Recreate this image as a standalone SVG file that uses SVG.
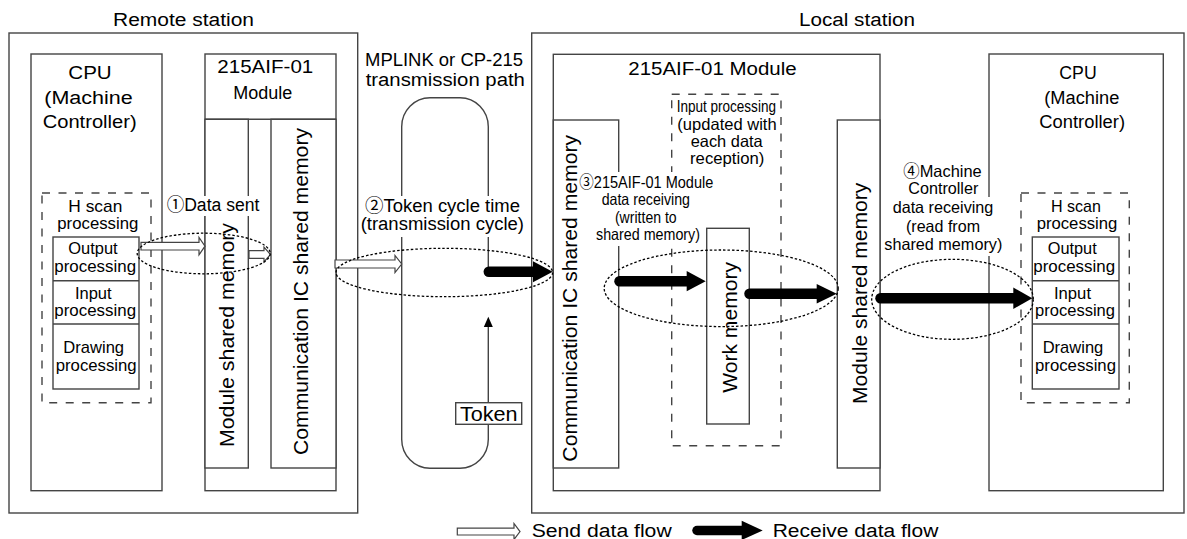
<svg xmlns="http://www.w3.org/2000/svg" width="1187" height="539" viewBox="0 0 1187 539">
<style>
text{font-family:"Liberation Sans",Arial,"Noto Sans CJK JP",sans-serif;fill:#000}
.t18{font-size:18px}
.t17{font-size:17px}
.t16{font-size:16.5px}
.t21{font-size:21px}
.c{text-anchor:middle}
.box{fill:#fff;stroke:#444;stroke-width:1.4}
.ln{fill:none;stroke:#444;stroke-width:1.4}
.dash{fill:none;stroke:#444;stroke-width:1.4;stroke-dasharray:8 8.5}
.dot{fill:none;stroke:#000;stroke-width:1.3;stroke-dasharray:2.5 2}
.bg{fill:#fff}
.snd{fill:#fff;stroke:#444;stroke-width:1.2}
.rl{stroke:#000;stroke-width:10.5;stroke-linecap:round}
.rh{fill:#000}
</style>
<rect width="1187" height="539" fill="#fff"/>

<g id="remote-station">
  <rect class="box" x="9" y="33" width="348.7" height="480"/>
  <text class="t18 c" x="183.5" y="26" textLength="141" lengthAdjust="spacingAndGlyphs">Remote station</text>
</g>
<g id="local-station">
  <rect class="box" x="531.7" y="33" width="652.3" height="480"/>
  <text class="t18 c" x="857" y="26" textLength="116" lengthAdjust="spacingAndGlyphs">Local station</text>
</g>

<g id="cpu-remote">
  <rect class="box" x="31" y="54" width="131" height="436.7"/>
  <text class="t18 c" x="90" y="79" textLength="43.4" lengthAdjust="spacingAndGlyphs">CPU</text>
  <text class="t18 c" x="88.5" y="103.5" textLength="88.4" lengthAdjust="spacingAndGlyphs">(Machine</text>
  <text class="t18 c" x="89.7" y="128" textLength="94" lengthAdjust="spacingAndGlyphs">Controller)</text>
</g>
<g id="hscan-remote">
  <rect class="dash" x="42" y="193" width="109" height="209.7"/>
  <text class="t17 c" x="95.3" y="212.3" textLength="54" lengthAdjust="spacingAndGlyphs">H scan</text>
  <text class="t17 c" x="97.8" y="229.3" textLength="81" lengthAdjust="spacingAndGlyphs">processing</text>
  <rect class="box" x="53" y="237" width="86" height="152"/>
  <line class="ln" x1="53" y1="280.7" x2="139" y2="280.7"/>
  <line class="ln" x1="53" y1="324" x2="139" y2="324"/>
  <text class="t17 c" x="93" y="254" textLength="49.4" lengthAdjust="spacingAndGlyphs">Output</text>
  <text class="t17 c" x="95.2" y="272.3" textLength="81.7" lengthAdjust="spacingAndGlyphs">processing</text>
  <text class="t17 c" x="93.3" y="299.3" textLength="36.7" lengthAdjust="spacingAndGlyphs">Input</text>
  <text class="t17 c" x="95.2" y="316" textLength="81.7" lengthAdjust="spacingAndGlyphs">processing</text>
  <text class="t17 c" x="93.7" y="353.3" textLength="60.7" lengthAdjust="spacingAndGlyphs">Drawing</text>
  <text class="t17 c" x="96.2" y="371" textLength="81" lengthAdjust="spacingAndGlyphs">processing</text>
</g>

<g id="module-remote">
  <rect class="box" x="205" y="54" width="131" height="436.7"/>
  <text class="t18 c" x="265.3" y="73.3" textLength="96" lengthAdjust="spacingAndGlyphs">215AIF-01</text>
  <text class="t18 c" x="262.8" y="99" textLength="59" lengthAdjust="spacingAndGlyphs">Module</text>
  <line class="ln" x1="205" y1="119.3" x2="336" y2="119.3"/>
  <rect class="box" x="205" y="119.3" width="43.3" height="348.7"/>
  <rect class="box" x="271" y="119.3" width="65" height="348.7"/>
  <text class="t21 c" transform="translate(233.5,335) rotate(-90)" textLength="224" lengthAdjust="spacingAndGlyphs">Module shared memory</text>
  <text class="t21 c" transform="translate(308,291.5) rotate(-90)" textLength="327" lengthAdjust="spacingAndGlyphs">Communication IC shared memory</text>
</g>

<g id="transmission-path">
  <text class="t18 c" x="444" y="65.7" textLength="158" lengthAdjust="spacingAndGlyphs">MPLINK or CP-215</text>
  <text class="t18 c" x="445.3" y="86" textLength="159.3" lengthAdjust="spacingAndGlyphs">transmission path</text>
  <path class="ln" d="M488.3,271 V126.7 A28.3,29 0 0 0 460,97.7 H430 A28.3,29 0 0 0 401.7,126.7 V439.3 A28.3,29 0 0 0 430,468.3 H460 A28.3,29 0 0 0 488.3,439.3 V324"/>
  <polygon class="rh" points="488.3,316.7 483.8,327 492.8,327"/>
</g>
<g id="token">
  <rect class="box" x="455.7" y="402.7" width="66" height="21.6"/>
  <text class="t21 c" x="488.8" y="421" textLength="57.7" lengthAdjust="spacingAndGlyphs">Token</text>
</g>

<g id="module-local">
  <rect class="box" x="553.3" y="54.3" width="326.7" height="436.4"/>
  <text class="t18 c" x="712.5" y="75" textLength="168.4" lengthAdjust="spacingAndGlyphs">215AIF-01 Module</text>
  <rect class="box" x="553.3" y="120" width="65.4" height="348"/>
  <rect class="box" x="837.3" y="120" width="42.7" height="348"/>
  <text class="t21 c" transform="translate(576.7,298.3) rotate(-90)" textLength="326.7" lengthAdjust="spacingAndGlyphs">Communication IC shared memory</text>
  <text class="t21 c" transform="translate(866.7,293.3) rotate(-90)" textLength="221.3" lengthAdjust="spacingAndGlyphs">Module shared memory</text>
</g>
<g id="input-processing">
  <rect class="dash" x="671.7" y="94.3" width="109.3" height="351.4"/>
  <text class="t16 c" x="726.3" y="111.7" textLength="99.3" lengthAdjust="spacingAndGlyphs">Input processing</text>
  <text class="t16 c" x="727" y="130" textLength="99.3" lengthAdjust="spacingAndGlyphs">(updated with</text>
  <text class="t16 c" x="726.7" y="146.7" textLength="72" lengthAdjust="spacingAndGlyphs">each data</text>
  <text class="t16 c" x="727.2" y="164" textLength="74.3" lengthAdjust="spacingAndGlyphs">reception)</text>
</g>
<g id="work-memory">
  <rect class="box" x="706.7" y="228.3" width="42.6" height="195.7"/>
  <text class="t21 c" transform="translate(737.3,327.4) rotate(-90)" textLength="130.7" lengthAdjust="spacingAndGlyphs">Work memory</text>
</g>

<g id="cpu-local">
  <rect class="box" x="989" y="54" width="174.3" height="436.7"/>
  <text class="t18 c" x="1078" y="79" textLength="37.3" lengthAdjust="spacingAndGlyphs">CPU</text>
  <text class="t18 c" x="1081.8" y="103.5" textLength="75" lengthAdjust="spacingAndGlyphs">(Machine</text>
  <text class="t18 c" x="1082.2" y="128" textLength="85.7" lengthAdjust="spacingAndGlyphs">Controller)</text>
</g>
<g id="hscan-local">
  <rect class="dash" x="1021" y="193" width="108.3" height="209.7"/>
  <text class="t17 c" x="1076" y="212.3" textLength="50" lengthAdjust="spacingAndGlyphs">H scan</text>
  <text class="t17 c" x="1077" y="229.3" textLength="80.7" lengthAdjust="spacingAndGlyphs">processing</text>
  <rect class="box" x="1032.3" y="237" width="86.7" height="152"/>
  <line class="ln" x1="1032.3" y1="280.7" x2="1119" y2="280.7"/>
  <line class="ln" x1="1032.3" y1="324" x2="1119" y2="324"/>
  <text class="t17 c" x="1072.2" y="254" textLength="49" lengthAdjust="spacingAndGlyphs">Output</text>
  <text class="t17 c" x="1074.2" y="272.3" textLength="81.7" lengthAdjust="spacingAndGlyphs">processing</text>
  <text class="t17 c" x="1072.5" y="299.3" textLength="37" lengthAdjust="spacingAndGlyphs">Input</text>
  <text class="t17 c" x="1075" y="316" textLength="80" lengthAdjust="spacingAndGlyphs">processing</text>
  <text class="t17 c" x="1073" y="353.3" textLength="60.6" lengthAdjust="spacingAndGlyphs">Drawing</text>
  <text class="t17 c" x="1075.5" y="371" textLength="81" lengthAdjust="spacingAndGlyphs">processing</text>
</g>

<g id="step-labels">
  <rect class="bg" x="165" y="196" width="96" height="20"/>
  <text class="t18 c" x="213" y="211" textLength="92.7" lengthAdjust="spacingAndGlyphs">①Data sent</text>
  <rect class="bg" x="359.5" y="196" width="167" height="41"/>
  <text class="t18 c" x="442.5" y="212.3" textLength="155" lengthAdjust="spacingAndGlyphs">②Token cycle time</text>
  <text class="t18 c" x="442.3" y="230" textLength="163.3" lengthAdjust="spacingAndGlyphs">(transmission cycle)</text>
  <rect class="bg" x="578" y="172" width="137" height="38"/>
  <rect class="bg" x="592" y="209" width="112" height="37"/>
  <text class="t16 c" x="646.3" y="188.3" textLength="134" lengthAdjust="spacingAndGlyphs">③215AIF-01 Module</text>
  <text class="t16 c" x="645.8" y="205" textLength="88.3" lengthAdjust="spacingAndGlyphs">data receiving</text>
  <text class="t16 c" x="645.8" y="223.3" textLength="61.7" lengthAdjust="spacingAndGlyphs">(written to</text>
  <text class="t16 c" x="648" y="240" textLength="104" lengthAdjust="spacingAndGlyphs">shared memory)</text>
  <rect class="bg" x="883.5" y="197" width="120" height="59"/>
  <text class="t16 c" x="942.5" y="176.7" textLength="78.4" lengthAdjust="spacingAndGlyphs">④Machine</text>
  <text class="t16 c" x="943.3" y="194.3" textLength="70" lengthAdjust="spacingAndGlyphs">Controller</text>
  <text class="t16 c" x="943" y="213.3" textLength="100.7" lengthAdjust="spacingAndGlyphs">data receiving</text>
  <text class="t16 c" x="943" y="231.7" textLength="74" lengthAdjust="spacingAndGlyphs">(read from</text>
  <text class="t16 c" x="943.3" y="250" textLength="118" lengthAdjust="spacingAndGlyphs">shared memory)</text>
</g>

<g id="connectors">
  <polygon class="snd" points="141,242.3 199,242.3 199,237.5 205,246.2 199,254.9 199,250 141,250"/>
  <polygon class="snd" points="249,250.7 264,250.7 264,247 270.5,254.5 264,262 264,258.3 249,258.3"/>
  <polygon class="snd" points="335,260 395,260 395,255.5 401.7,264 395,272.5 395,268 335,268"/>
  <line class="rl" x1="488.8" y1="271.7" x2="534" y2="271.7"/>
  <polygon class="rh" points="533,261.2 552.7,271.7 533,282.2"/>
  <line class="rl" x1="619.5" y1="281.3" x2="687.5" y2="281.3"/>
  <polygon class="rh" points="686.7,271 705.7,281.3 686.7,291.3"/>
  <line class="rl" x1="749.5" y1="293.8" x2="817.5" y2="293.8"/>
  <polygon class="rh" points="816.7,284 836.7,293.8 816.7,303.6"/>
  <line class="rl" x1="880.5" y1="298.3" x2="1014" y2="298.3"/>
  <polygon class="rh" points="1013.3,287.5 1032.3,298.3 1013.3,309"/>
  <ellipse class="dot" cx="203.7" cy="253.5" rx="66.5" ry="20.3"/>
  <ellipse class="dot" cx="444.3" cy="272.5" rx="108.3" ry="24.2"/>
  <ellipse class="dot" cx="721.2" cy="288.3" rx="117" ry="38.3"/>
  <ellipse class="dot" cx="952.5" cy="299.3" rx="80.8" ry="40"/>
</g>

<g id="legend">
  <polygon class="snd" points="457.3,528.2 514,528.2 514,523.5 520,531.6 514,539.5 514,535 457.3,535"/>
  <text class="t18 c" x="601.7" y="536.5" textLength="140" lengthAdjust="spacingAndGlyphs">Send data flow</text>
  <line class="rl" x1="697" y1="530.5" x2="742.5" y2="530.5" style="stroke-width:9.5"/>
  <polygon class="rh" points="741.7,520.8 762.7,530.5 741.7,540"/>
  <text class="t18 c" x="855.5" y="536.5" textLength="165.6" lengthAdjust="spacingAndGlyphs">Receive data flow</text>
</g>
</svg>
